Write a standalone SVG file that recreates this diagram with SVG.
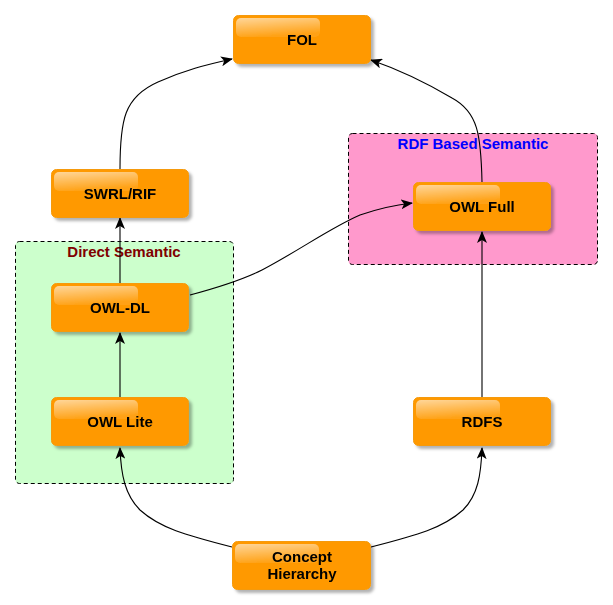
<svg xmlns="http://www.w3.org/2000/svg" width="613" height="605" viewBox="0 0 613 605">
<style>
.box{fill:#FF9900;stroke:#F59A0A;stroke-width:1}
.gloss{fill:url(#gl)}
.lbl{font-family:"Liberation Sans",Arial,sans-serif;font-weight:bold;font-size:15px;fill:#000;text-anchor:middle}
.grp{stroke:#000;stroke-width:1;stroke-dasharray:4 3}
.glbl{font-family:"Liberation Sans",Arial,sans-serif;font-weight:bold;font-size:15px;text-anchor:middle}
.edge{fill:none;stroke:#000;stroke-width:1.1;marker-end:url(#arr)}
</style>
<defs>
<linearGradient id="gl" x1="0" y1="0" x2="0.3" y2="1">
<stop offset="0" stop-color="#fff" stop-opacity="0.6"/>
<stop offset="1" stop-color="#fff" stop-opacity="0.08"/>
</linearGradient>
<filter id="sh" x="-10%" y="-10%" width="125%" height="140%">
<feDropShadow dx="3" dy="3" stdDeviation="1.5" flood-color="#000" flood-opacity="0.3"/>
</filter>
<marker id="arr" viewBox="0 0 12 10" refX="11" refY="5" markerWidth="12" markerHeight="10" markerUnits="userSpaceOnUse" orient="auto">
<path d="M0,0 L12,5 L0,10 L3,5 z" fill="#000"/>
</marker>
</defs>

<g id="direct-semantic">
<rect class="grp" x="15.5" y="241.5" width="218" height="242" rx="4" fill="#CCFFCC"/>
<text class="glbl" x="124" y="257" fill="#800000">Direct Semantic</text>
</g>
<g id="rdf-based-semantic">
<rect class="grp" x="348.5" y="133.5" width="249" height="131" rx="4" fill="#FF99CC"/>
<text class="glbl" x="473" y="149" fill="#0000FF">RDF Based Semantic</text>
</g>

<g id="connectors">
<path class="edge" d="M120,397 L120,333"/>
<path class="edge" d="M120,283 L120,218"/>
<path class="edge" d="M482,397 L482,232"/>
<path class="edge" d="M120,169 C120,120 124,97 158,82 C185,70 205,65 232,59"/>
<path class="edge" d="M482,182 C481,135 478,112 452,98 C425,82 400,70 371,60"/>
<path class="edge" d="M190,295 C220,287 242,280 262,270 C300,250 330,228 360,215 C380,208 395,205 412,203"/>
<path class="edge" d="M232,547 C185,535 160,528 140,510 C125,495 121,475 120,448"/>
<path class="edge" d="M371,547 C418,535 443,528 463,510 C478,495 481,475 482,448"/>
</g>

<g id="fol" filter="url(#sh)">
<rect class="box" x="233.5" y="15.5" width="137" height="48" rx="5"/>
<rect class="gloss" x="236" y="18" width="84" height="19" rx="5"/>
<text class="lbl" x="302" y="45">FOL</text>
</g>
<g id="swrl-rif" filter="url(#sh)">
<rect class="box" x="51.5" y="169.5" width="137" height="48" rx="5"/>
<rect class="gloss" x="54" y="172" width="84" height="19" rx="5"/>
<text class="lbl" x="120" y="199">SWRL/RIF</text>
</g>
<g id="owl-dl" filter="url(#sh)">
<rect class="box" x="51.5" y="283.5" width="137" height="48" rx="5"/>
<rect class="gloss" x="54" y="286" width="84" height="19" rx="5"/>
<text class="lbl" x="120" y="313">OWL-DL</text>
</g>
<g id="owl-lite" filter="url(#sh)">
<rect class="box" x="51.5" y="397.5" width="137" height="48" rx="5"/>
<rect class="gloss" x="54" y="400" width="84" height="19" rx="5"/>
<text class="lbl" x="120" y="427">OWL Lite</text>
</g>
<g id="owl-full" filter="url(#sh)">
<rect class="box" x="413.5" y="182.5" width="137" height="48" rx="5"/>
<rect class="gloss" x="416" y="185" width="84" height="19" rx="5"/>
<text class="lbl" x="482" y="212">OWL Full</text>
</g>
<g id="rdfs" filter="url(#sh)">
<rect class="box" x="413.5" y="397.5" width="137" height="48" rx="5"/>
<rect class="gloss" x="416" y="400" width="84" height="19" rx="5"/>
<text class="lbl" x="482" y="427">RDFS</text>
</g>
<g id="concept-hierarchy" filter="url(#sh)">
<rect class="box" x="232.5" y="541.5" width="138" height="48" rx="5"/>
<rect class="gloss" x="235" y="544" width="84" height="19" rx="5"/>
<text class="lbl" x="302" y="562">Concept</text>
<text class="lbl" x="302" y="579">Hierarchy</text>
</g>
</svg>
